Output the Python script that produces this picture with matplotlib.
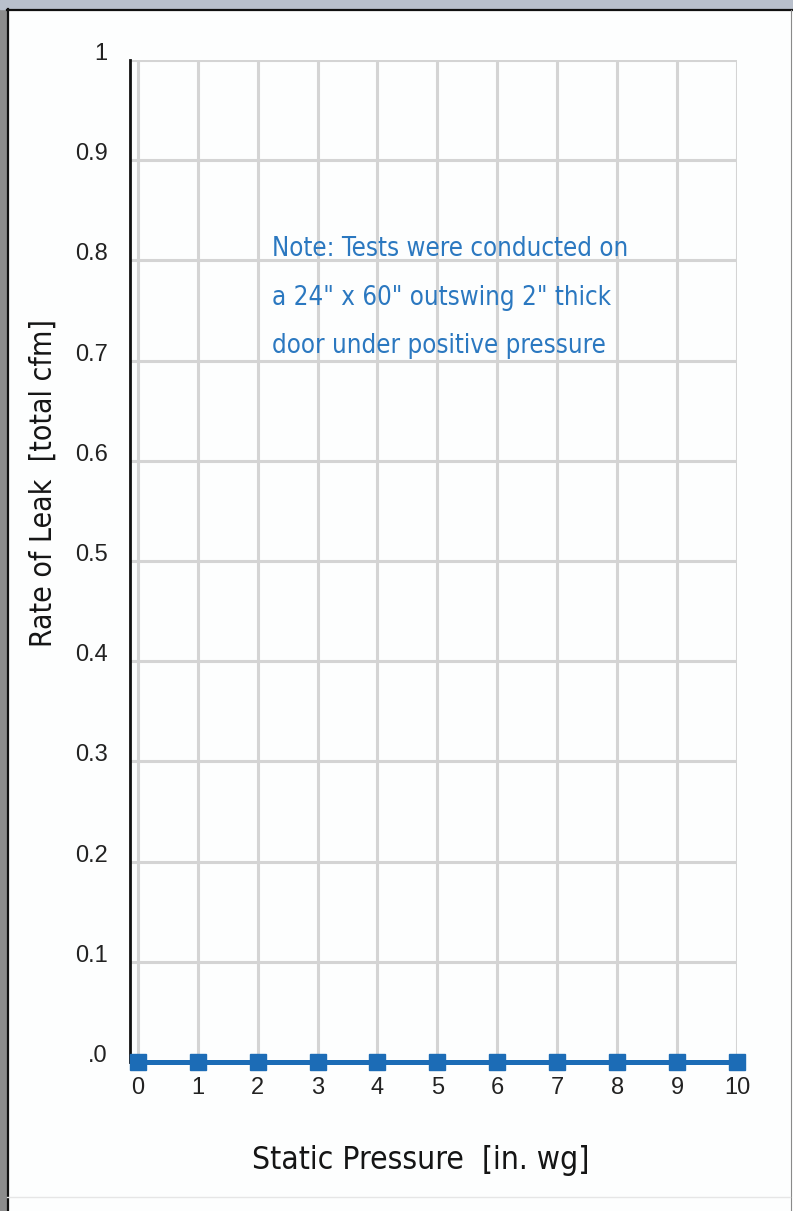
import matplotlib
matplotlib.use("Agg")
import matplotlib.pyplot as plt
from matplotlib import font_manager
from matplotlib.patches import Rectangle

# data
pressure = [0, 1, 2, 3, 4, 5, 6, 7, 8, 9, 10]
leak_rate = [0, 0, 0, 0, 0, 0, 0, 0, 0, 0, 0]
y_ticks = [0, 0.1, 0.2, 0.3, 0.4, 0.5, 0.6, 0.7, 0.8, 0.9, 1.0]
y_ticklabels = [".0", "0.1", "0.2", "0.3", "0.4", "0.5", "0.6", "0.7", "0.8", "0.9", "1"]
note = "Note: Tests were conducted on\na 24\" x 60\" outswing 2\" thick\ndoor under positive pressure"


# narrowest installed upright face for the big labels
def stretch_of(f):
    s = f.stretch
    if isinstance(s, str):
        s = font_manager.stretch_dict.get(s, 500)
    return s


def weight_of(f):
    w = f.weight
    if isinstance(w, str):
        w = font_manager.weight_dict.get(w, 400)
    return w


faces = [f for f in font_manager.fontManager.ttflist
         if stretch_of(f) < 500 and f.style == "normal" and weight_of(f) in (400, 500)
         and "Mono" not in f.name]
faces.sort(key=lambda f: (stretch_of(f), abs(weight_of(f) - 400)))
if faces:
    f0 = faces[0]
    narrow_prop = font_manager.FontProperties(fname=f0.fname)
    stretch_rank = stretch_of(f0)
else:
    narrow_prop = font_manager.FontProperties(family="DejaVu Sans")
    stretch_rank = 500

k = {100: 1.25, 200: 1.15, 300: 1.0, 400: 0.92}.get(stretch_rank, 0.82)

blue = "#1c6cb6"

fig = plt.figure(figsize=(7.93, 12.11), dpi=100)
fig.patch.set_facecolor("#fdfefe")

# outer frame
fig.patches.append(Rectangle((0, 0), 7 / 793, 1, transform=fig.transFigure,
                             color="#8c8c8c", zorder=0))
fig.patches.append(Rectangle((0, 1 - 9 / 1211), 1, 9 / 1211, transform=fig.transFigure,
                             color="#b9c0cc", zorder=0))
fig.add_artist(plt.Line2D([7.5 / 793, 7.5 / 793], [0, 1 - 9 / 1211], transform=fig.transFigure,
                          color="#111111", lw=1.6))
fig.add_artist(plt.Line2D([7 / 793, 1], [1 - 10 / 1211, 1 - 10 / 1211], transform=fig.transFigure,
                          color="#111111", lw=1.6))
fig.add_artist(plt.Line2D([790.5 / 793, 790.5 / 793], [0, 1 - 10 / 1211], transform=fig.transFigure,
                          color="#8a8a8a", lw=0.8))
fig.add_artist(plt.Line2D([7 / 793, 790 / 793], [1 - 1197 / 1211, 1 - 1197 / 1211],
                          transform=fig.transFigure, color="#e6e6e6", lw=1.0))

ax = fig.add_axes([130 / 793, 149 / 1211, 607 / 793, 1002 / 1211])
ax.set_facecolor("none")
ax.set_xlim(-0.13, 10)
ax.set_ylim(0, 1)

ax.set_xticks(pressure)
ax.set_yticks(y_ticks)
ax.set_yticklabels(y_ticklabels)
ax.tick_params(length=0, labelsize=17, labelcolor="#222222")
ax.tick_params(axis="x", pad=11)
ax.tick_params(axis="y", pad=16)
for lab in ax.get_xticklabels() + ax.get_yticklabels():
    lab.set_family(["Liberation Sans", "DejaVu Sans"])
for lab in ax.get_yticklabels():
    lab.set_verticalalignment("baseline")

ax.grid(True, color="#d4d4d4", lw=2.2)
ax.set_axisbelow(True)
for s in ["top", "right", "bottom"]:
    ax.spines[s].set_visible(False)
ax.spines["left"].set_color("#111111")
ax.spines["left"].set_linewidth(2)

ax.plot(pressure, leak_rate, color=blue, lw=3.6, marker="s", markersize=12,
        clip_on=False, zorder=5)

note_fs = 18.5 * k
ax.text(272 / 793, 1 - 236 / 1211, note, transform=fig.transFigure, ha="left", va="top",
        color="#2b78c0", fontproperties=narrow_prop, fontsize=note_fs,
        linespacing=50 / (0.914 * note_fs * 100 / 72))

fig.text(421 / 793, 1 - 1160 / 1211, "Static Pressure  [in. wg]", ha="center", va="center",
         color="#151515", fontproperties=narrow_prop, fontsize=22.8 * k)
fig.text(43 / 793, 1 - 483 / 1211, "Rate of Leak  [total cfm]", ha="center", va="center",
         rotation=90, color="#151515", fontproperties=narrow_prop, fontsize=21.6 * k)

fig.savefig("out.png", dpi=100, facecolor=fig.get_facecolor())
